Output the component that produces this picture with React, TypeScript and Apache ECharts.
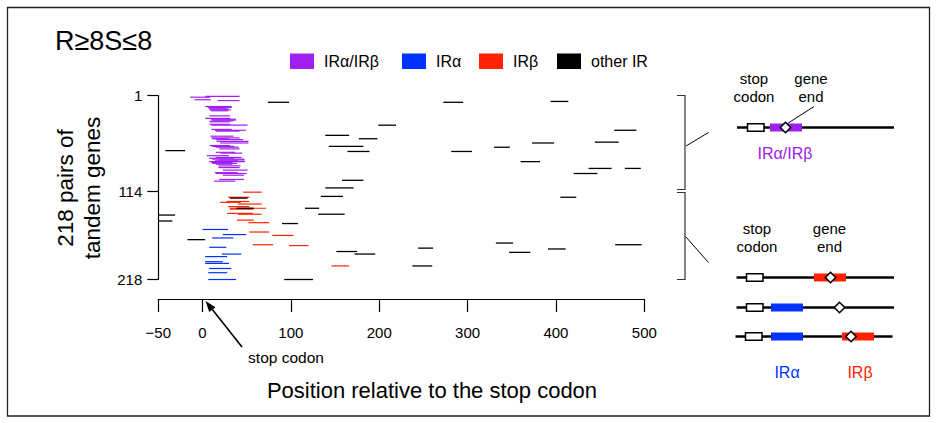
import React, { useEffect, useRef } from 'react';
import * as echarts from 'echarts';

const xTicks = [-50, 0, 100, 200, 300, 400, 500];
const yTicks = [1, 114, 218];
const legendNames = ['IRα/IRβ', 'IRα', 'IRβ', 'other IR'];

// [row, start, end]
const purpleSegs: number[][] = [
  [2, 3, 42], [3, -14, 9], [6, -9, 9.5], [7, 17, 42],
  [14, 3, 33], [15, 6, 33], [16, 7, 27], [17, 8, 30], [18, 8, 32], [19, 9.5, 29],
  [25, 7.6, 31], [28, 3, 31.5], [29, 9.5, 38], [30, 12, 38], [31, 9, 35], [32, 8, 31],
  [35, 8, 31], [36, 10, 51],
  [41, 10, 33], [42, 14, 49], [43, 15, 42],
  [49, 9, 35], [51, 10, 42], [52, 11, 30], [53, 15, 46], [55, 16, 52], [57, 20, 52],
  [60, 8, 31], [61, 11, 36], [62, 15, 41], [64, 19, 42],
  [68, 15, 37], [69, 20, 45], [72, 5, 30],
  [74, 15, 44], [75, 7.6, 36], [76, 11, 47], [77, 19, 48], [78, 14, 40], [79, 7.6, 48], [80, 10, 34], [81, 11, 39], [82, 15, 34],
  [84, 18, 43], [86, 18, 42], [89, 23, 51], [92, 14, 40], [93, 15, 50], [95, 23, 47], [100, 19, 47], [102, 13, 37],
];

const redSegs: number[][] = [
  [115, 46, 67], [121, 29, 53], [126, 27.4, 53], [127, 20, 43.5], [129, 40, 67], [132, 29, 53],
  [134, 31, 72], [135, 31, 58], [140, 28, 57], [141, 40, 67], [148, 39, 58], [151, 52, 75.5],
  [162, 53, 75.5], [166, 79, 103], [177, 57, 80], [178, 98, 120], [202, 146, 166],
];

const blueSegs: number[][] = [
  [159, 0, 29], [165, 23, 49.5], [169, 11, 35], [180, 7.6, 27], [188, 22, 44], [191, 3, 28],
  [197, 3, 23], [199, 3, 30], [205, 7.6, 32.5], [210, 6.5, 28], [218, 6.5, 38],
];

const blackSegs: number[][] = [
  [9, 74, 98], [66, -42, -19.6],
  [9, 272.5, 295], [36, 199, 219], [48, 139, 166], [52, 177, 198], [61, 143, 182], [67, 164, 189],
  [67, 281.5, 305], [101, 158, 182], [110, 139, 171],
  [8, 394, 414], [42, 466, 491], [57, 373, 398], [56, 444, 471], [62, 330, 348], [79, 360, 382],
  [87, 437, 463], [87, 478, 496], [93, 420, 447],
  [134, 116, 132], [141, 131, 161], [142, -50, -31], [149, -50, -34], [152, 90, 108], [171, -17, 3],
  [218, 92.5, 125], [120, 134, 159], [181, 244, 261], [185, 151.5, 175], [188, 172, 195.5],
  [202, 237.5, 260], [121, 405, 423], [175, 332, 351.5], [186, 347, 371], [182, 391, 411],
  [177, 467, 497], [122, 31, 51], [134, 38.5, 58],
];

const PURPLE = '#a020f0';
const BLUE = '#0033ff';
const RED = '#ff2200';
const BLACK = '#000000';
const FONT = '"Liberation Sans", Arial, Helvetica, sans-serif';

function segSeries(name: string, data: number[][], color: string, lw: number) {
  return {
    name,
    type: 'custom',
    data,
    encode: { x: [1, 2], y: 0 },
    clip: false,
    silent: true,
    renderItem: (_params: any, api: any) => {
      const r = api.value(0);
      const a = api.coord([api.value(1), r]);
      const b = api.coord([api.value(2), r]);
      return {
        type: 'line',
        shape: { x1: a[0], y1: a[1], x2: b[0], y2: b[1] },
        style: { stroke: color, lineWidth: lw },
      };
    },
  };
}

function txt(text: string, x: number, y: number, size: number, color = '#000', align = 'center', extra: any = {}) {
  return {
    type: 'text',
    x,
    y,
    silent: true,
    ...extra,
    style: {
      text,
      fill: color,
      fontSize: size,
      fontFamily: FONT,
      align,
      verticalAlign: 'middle',
      lineHeight: extra.lineHeight || size * 1.2,
    },
  };
}

function line(x1: number, y1: number, x2: number, y2: number, lw = 1, color = '#000') {
  return { type: 'line', silent: true, shape: { x1, y1, x2, y2 }, style: { stroke: color, lineWidth: lw } };
}

function box(x: number, y: number, w: number, h: number, fill: string, stroke?: string, lw = 0) {
  return {
    type: 'rect',
    silent: true,
    shape: { x, y, width: w, height: h },
    style: stroke ? { fill, stroke, lineWidth: lw } : { fill },
  };
}

function diamond(cx: number, cy: number, s: number) {
  return {
    type: 'polygon',
    silent: true,
    shape: { points: [[cx, cy - s], [cx + s, cy], [cx, cy + s], [cx - s, cy]] },
    style: { fill: '#fff', stroke: '#000', lineWidth: 1.6 },
  };
}

function geneLine(y: number, x1: number, x2: number, stopX: number, boxes: [number, string][], dx: number) {
  const els: any[] = [line(x1, y, x2, y, 2.6)];
  boxes.forEach(([bx, c]) => els.push(box(bx, y - 4, 32, 8, c)));
  els.push(box(stopX, y - 3.7, 16.5, 7.4, '#fff', '#000', 1.5));
  els.push(diamond(dx, y, 5.2));
  return els;
}

export default function App() {
  const ref = useRef<HTMLDivElement>(null);
  useEffect(() => {
    const chart = echarts.init(ref.current!, null, { renderer: 'svg' });

    // arrow for "stop codon"
    const tip = [205.5, 301];
    const tail = [242, 347];
    const dxv = tip[0] - tail[0];
    const dyv = tip[1] - tail[1];
    const len = Math.sqrt(dxv * dxv + dyv * dyv);
    const ux = dxv / len, uy = dyv / len;
    const base = [tip[0] - 11 * ux, tip[1] - 11 * uy];
    const px = -uy, py = ux;

    const graphics: any[] = [
      box(7.5, 7.5, 922, 408.5, 'none', '#222', 1.3),
      txt('R≥8S≤8', 55, 41, 27, '#000', 'left'),
      // legend
      box(290, 53.5, 24, 15.5, PURPLE), txt(legendNames[0], 324, 61.5, 16, '#000', 'left'),
      box(402, 53.5, 24, 15.5, BLUE), txt(legendNames[1], 436, 61.5, 16, '#000', 'left'),
      box(479, 53.5, 24, 15.5, RED), txt(legendNames[2], 513, 61.5, 16, '#000', 'left'),
      box(557, 53.5, 24, 15.5, BLACK), txt(legendNames[3], 591, 61.5, 16, '#000', 'left'),
      // y title
      txt('218 pairs of\ntandem genes', 78.5, 188, 22.5, '#000', 'center', { rotation: Math.PI / 2, lineHeight: 27 }),
      // x title
      txt('Position relative to the stop codon', 432, 390, 22),
      // stop codon arrow
      line(tail[0], tail[1], base[0], base[1], 1.6),
      {
        type: 'polygon',
        silent: true,
        shape: {
          points: [tip, [base[0] + 4 * px, base[1] + 4 * py], [base[0] - 4 * px, base[1] - 4 * py]],
        },
        style: { fill: '#000' },
      },
      txt('stop codon', 286, 357, 15.5),
      // brackets
      {
        type: 'polyline', silent: true,
        shape: { points: [[677, 95.5], [685, 95.5], [685, 189.5], [677, 189.5]] },
        style: { stroke: '#333', lineWidth: 1.2, fill: 'none' },
      },
      {
        type: 'polyline', silent: true,
        shape: { points: [[677, 192.5], [685, 192.5], [685, 279.5], [677, 279.5]] },
        style: { stroke: '#333', lineWidth: 1.2, fill: 'none' },
      },
      line(686, 146, 708.5, 132.5, 1),
      line(685.5, 236.5, 708.5, 262.5, 1),
      // diagram 1
      txt('stop\ncodon', 754, 87.5, 15, '#000', 'center', { lineHeight: 18.5 }),
      txt('gene\nend', 811, 87.5, 15, '#000', 'center', { lineHeight: 18.5 }),
      ...geneLine(127.5, 737, 894, 747.5, [[770, PURPLE]], 785.5),
      line(814, 106.5, 787.5, 123.5, 1),
      txt('IRα/IRβ', 785, 153.5, 16, PURPLE),
      // diagram 2
      txt('stop\ncodon', 757, 237.5, 15, '#000', 'center', { lineHeight: 18.5 }),
      txt('gene\nend', 829.5, 237.5, 15, '#000', 'center', { lineHeight: 18.5 }),
      ...geneLine(277.5, 736.5, 894, 746.5, [[814, RED]], 830.5),
      ...geneLine(307.5, 736.5, 894, 746.5, [[771, BLUE]], 839.5),
      ...geneLine(336.5, 735.5, 892.5, 745.5, [[771, BLUE], [842, RED]], 851),
      txt('IRα', 787, 372, 16, BLUE),
      txt('IRβ', 860, 372, 16, RED),
    ];

    chart.setOption({
      animation: false,
      backgroundColor: '#fff',
      textStyle: { fontFamily: FONT },
      grid: { left: 158.3, top: 95.5, width: 486, height: 184, containLabel: false, outerBoundsMode: 'none' },
      xAxis: {
        type: 'value',
        min: -50,
        max: 500,
        offset: 19.5,
        splitLine: { show: false },
        axisLine: { show: true, onZero: false, lineStyle: { color: '#000', width: 1.2 } },
        axisTick: { show: true, length: 13, inside: false, customValues: xTicks, lineStyle: { color: '#000', width: 1.2 } },
        axisLabel: {
          customValues: xTicks,
          margin: 26,
          fontSize: 15,
          color: '#000',
          fontFamily: FONT,
          formatter: (v: number) => (v < 0 ? '\u2212' + Math.abs(v) : String(v)),
        },
      },
      yAxis: {
        type: 'value',
        inverse: true,
        min: 1,
        max: 218,
        splitLine: { show: false },
        axisLine: { show: true, onZero: false, lineStyle: { color: '#000', width: 1.2 } },
        axisTick: { show: true, length: 11, inside: false, customValues: yTicks, lineStyle: { color: '#000', width: 1.2 } },
        axisLabel: { customValues: yTicks, margin: 16, fontSize: 15, color: '#000', fontFamily: FONT },
      },
      series: [
        segSeries('IRα/IRβ', purpleSegs, PURPLE, 1.2),
        segSeries('IRβ', redSegs, RED, 1.2),
        segSeries('IRα', blueSegs, BLUE, 1.2),
        segSeries('other IR', blackSegs, BLACK, 1.3),
      ],
      graphic: graphics,
    });
    return () => chart.dispose();
  }, []);
  return <div ref={ref} style={{ position: 'absolute', left: 0, top: 0, width: 937, height: 423 }} />;
}
